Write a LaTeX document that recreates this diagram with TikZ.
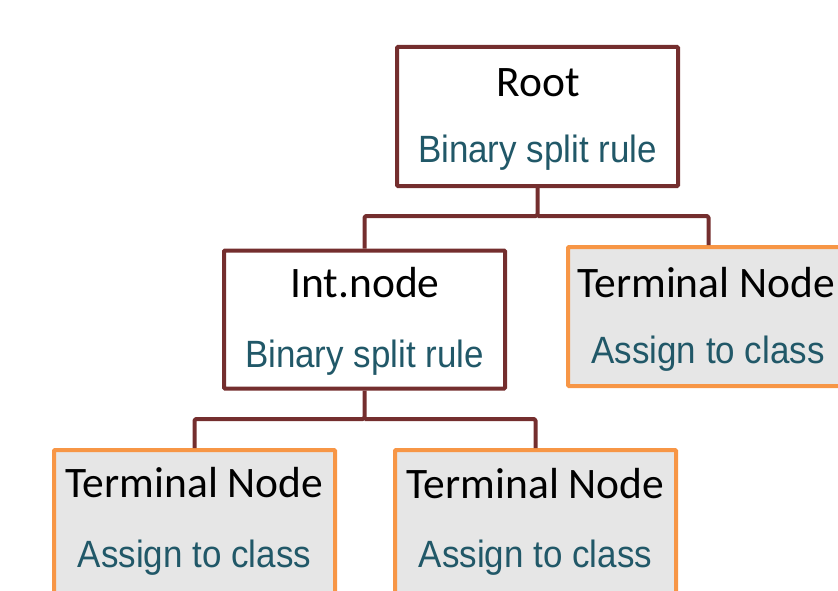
\documentclass[tikz,border=0pt]{standalone}
\usepackage{fontspec}
\setmainfont{Carlito}
\newfontfamily\arfont[FakeStretch=0.92]{Liberation Sans}
\definecolor{brownline}{RGB}{116,46,46}
\definecolor{orangeline}{RGB}{247,150,70}
\definecolor{termfill}{RGB}{230,230,230}
\definecolor{tealtext}{RGB}{33,88,104}
\begin{document}
\begin{tikzpicture}[x=1pt,y=-1pt,
  splitbox/.style={draw=brownline,line width=4pt,fill=white,rounded corners=1pt,minimum width=281pt,minimum height=139pt,inner sep=0pt},
  termbox/.style={draw=orangeline,line width=4pt,fill=termfill,rounded corners=1pt,minimum width=281pt,minimum height=139pt,inner sep=0pt},
  titletext/.style={anchor=base,inner sep=0pt,font=\fontsize{43.5}{50}\selectfont,text=black},
  subtext/.style={anchor=base,inner sep=0pt,font=\arfont\fontsize{38}{44}\selectfont,text=tealtext},
  conn/.style={draw=brownline,line width=4pt,rounded corners=1.5pt,line join=round}]
\useasboundingbox (0,0) rectangle (838,591);
\clip (0,0) rectangle (838,591);
% boxes
\node[splitbox] (root) at (537.5,116.5) {};
\node[splitbox,minimum height=138pt] (int) at (364.5,319.5) {};
\node[termbox] (t1) at (708.5,316.5) {};
\node[termbox,minimum height=150pt] (t2) at (194.5,525) {};
\node[termbox,minimum height=150pt] (t3) at (535.5,525) {};
% connectors
\coordinate (j1) at (537.5,216);
\coordinate (j2) at (364.5,419);
\draw[conn] (root.south) -- (j1) -| (int.north);
\draw[conn] (j1) -| (t1.north);
\draw[conn] (int.south) -- (j2) -| (t2.north);
\draw[conn] (j2) -| (t3.north);
% texts
\node[titletext] (roott) at (538,96.5) {Root};
\node[subtext] (roots) at (537.5,163) {Binary split rule};
\node[titletext] (intt) at (365,297.5) {Int.node};
\node[subtext] (ints) at (364.5,367) {Binary split rule};
\node[titletext] (t1t) at (706,297) {Terminal Node};
\node[subtext] (t1s) at (708,363) {Assign to class};
\node[titletext] (t2t) at (194.5,497) {Terminal Node};
\node[subtext] (t2s) at (194.5,567) {Assign to class};
\node[titletext] (t3t) at (535.5,498) {Terminal Node};
\node[subtext] (t3s) at (535.5,567) {Assign to class};
\end{tikzpicture}
\end{document}
